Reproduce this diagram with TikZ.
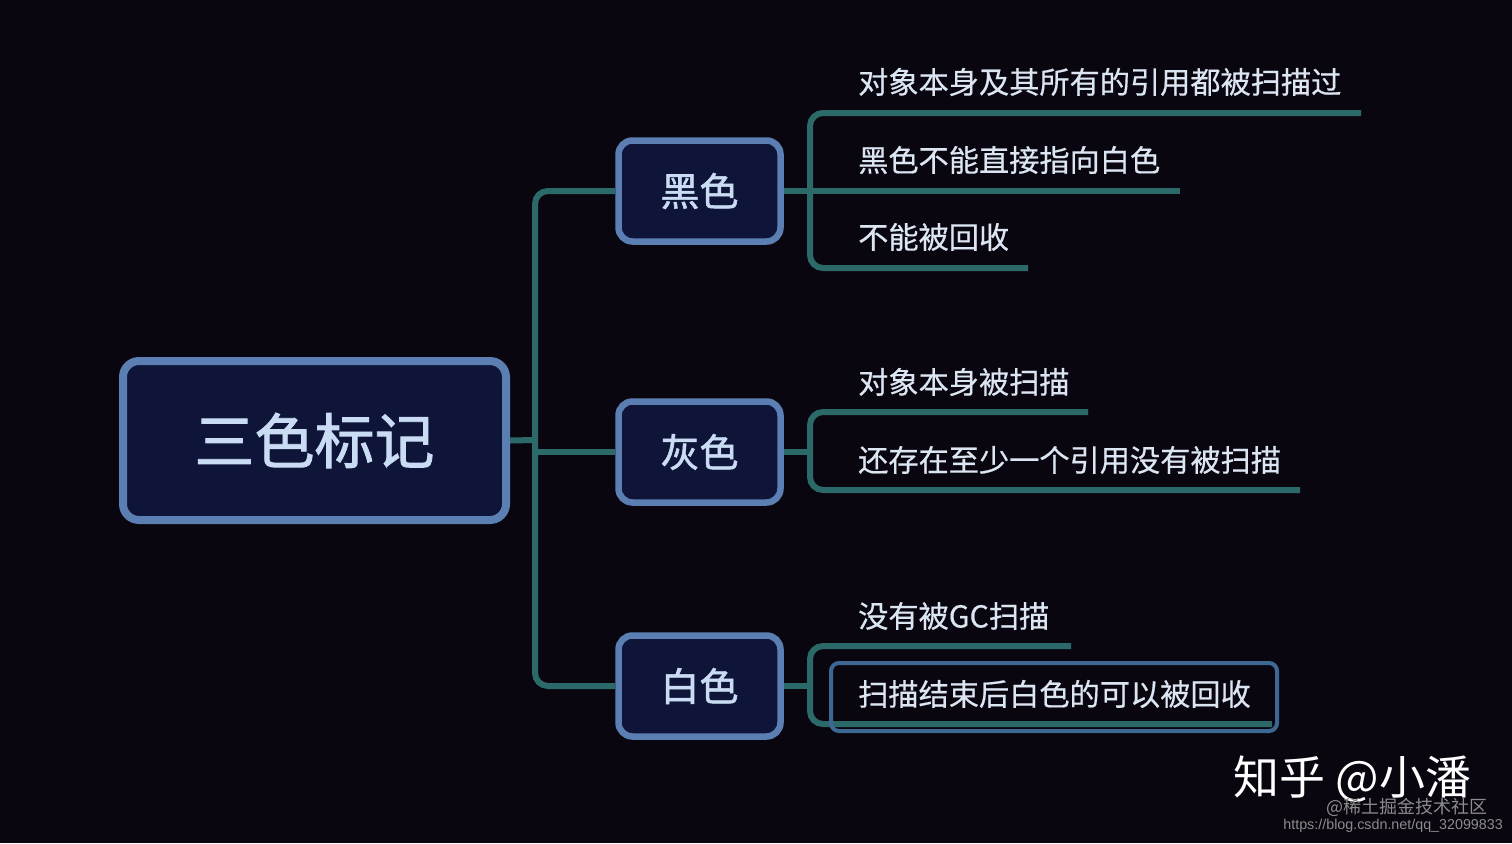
\documentclass[tikz,border=0pt]{standalone}
\usepackage{fontspec}
\setmainfont{Noto Sans CJK SC}
\newfontfamily\boxfont[FakeBold=1.4]{Noto Sans CJK SC}
\newfontfamily\leaffont[FakeBold=0.5]{Noto Sans CJK SC}
\newfontfamily\urlfont{Liberation Sans}

\definecolor{bgcolor}{HTML}{0A060F}
\definecolor{boxfill}{HTML}{0F1539}
\definecolor{boxline}{HTML}{5B7EB3}
\definecolor{boxtext}{HTML}{C9DCF4}
\definecolor{branchcolor}{HTML}{2B6A68}
\definecolor{leaftext}{HTML}{DCE6F3}
\definecolor{selcolor}{HTML}{3E6894}
\definecolor{marktext}{HTML}{8C8C8C}

\begin{document}
\begin{tikzpicture}[x=1pt, y=-1pt,
		rootbox/.style={draw=boxline, fill=boxfill, line width=8pt, rounded corners=16pt,
			minimum width=383pt, minimum height=159pt, inner sep=0pt,
			text=boxtext, font=\boxfont\fontsize{60}{60}\selectfont},
		childbox/.style={draw=boxline, fill=boxfill, line width=6.5pt, rounded corners=14pt,
			minimum width=162pt, minimum height=101pt, inner sep=0pt,
			text=boxtext, font=\boxfont\fontsize{39}{39}\selectfont},
		leaf/.style={anchor=west, inner sep=0pt, text=leaftext, font=\leaffont\fontsize{30.2}{30.2}\selectfont},
		branch/.style={draw=branchcolor, line width=6pt, rounded corners=13pt},
		wmark/.style={inner sep=0pt, text=marktext}
		]
		
		% 背景
		\fill[bgcolor] (0,0) rectangle (1512,843);
		\useasboundingbox (0,0) rectangle (1512,843);
		
		% 主干坐标
		\coordinate (trunk) at (535,440);
		
		\coordinate (h1s) at (810,113);
		\coordinate (h1e) at (1361,113);
		\coordinate (h2e) at (1180,191);
		\coordinate (h3s) at (810,268);
		\coordinate (h3e) at (1028,268);
		
		\coordinate (g1s) at (810,412);
		\coordinate (g1e) at (1088,412);
		\coordinate (g2s) at (810,490);
		\coordinate (g2e) at (1300,490);
		
		\coordinate (w1s) at (810,646);
		\coordinate (w1e) at (1071,646);
		\coordinate (w2s) at (810,724);
		\coordinate (w2e) at (1272,724);
		
		% 节点
		\node[rootbox] (root) at (314.5,440.5) {三色标记};
		\node[childbox] (hei) at (699.5,191) {黑色};
		\node[childbox] (hui) at (699.5,452) {灰色};
		\node[childbox] (bai) at (699.5,686) {白色};
		
		% 连线（青绿色）
		\draw[branch] (hei.west) -| (trunk) |- (bai.west);
		\draw[branch] (root.east) -- (trunk);
		\draw[branch] (trunk |- hui.west) -- (hui.west);
		
		\draw[branch] (h1e) -- (h1s) -- (h3s) -- (h3e);
		\draw[branch] (hei.east) -- (h2e);
		
		\draw[branch] (g1e) -- (g1s) -- (g2s) -- (g2e);
		\draw[branch] (hui.east) -- (hui.east -| g1s);
		
		\draw[branch] (w1e) -- (w1s) -- (w2s) -- (w2e);
		\draw[branch] (bai.east) -- (bai.east -| w1s);
		
		% 选中框
		\draw[selcolor, line width=4pt, rounded corners=8pt] (831,663) rectangle (1277,731);
		
		% 叶子文字
		\node[leaf] (h1) at (858,82) {对象本身及其所有的引用都被扫描过};
		\node[leaf] (h2) at (858,160) {黑色不能直接指向白色};
		\node[leaf] (h3) at (858,237) {不能被回收};
		\node[leaf] (g1) at (858,382) {对象本身被扫描};
		\node[leaf] (g2) at (858,460) {还存在至少一个引用没有被扫描};
		\node[leaf] (w1) at (858,616) {没有被GC扫描};
		\node[leaf] (w2) at (858,694) {扫描结束后白色的可以被回收};
		
		% 水印
		\node[wmark, anchor=west, text=white, font=\fontsize{46}{46}\selectfont] (zhihu) at (1233,779) {知乎 @小潘};
		\node[wmark, anchor=east, font=\fontsize{18}{18}\selectfont] (juejin) at (1488,807) {@稀土掘金技术社区};
		\node[wmark, anchor=east, font=\urlfont\fontsize{14.3}{14.3}\selectfont] (csdn) at (1503,826) {https://blog.csdn.net/qq\_32099833};
		
	\end{tikzpicture}
\end{document}
